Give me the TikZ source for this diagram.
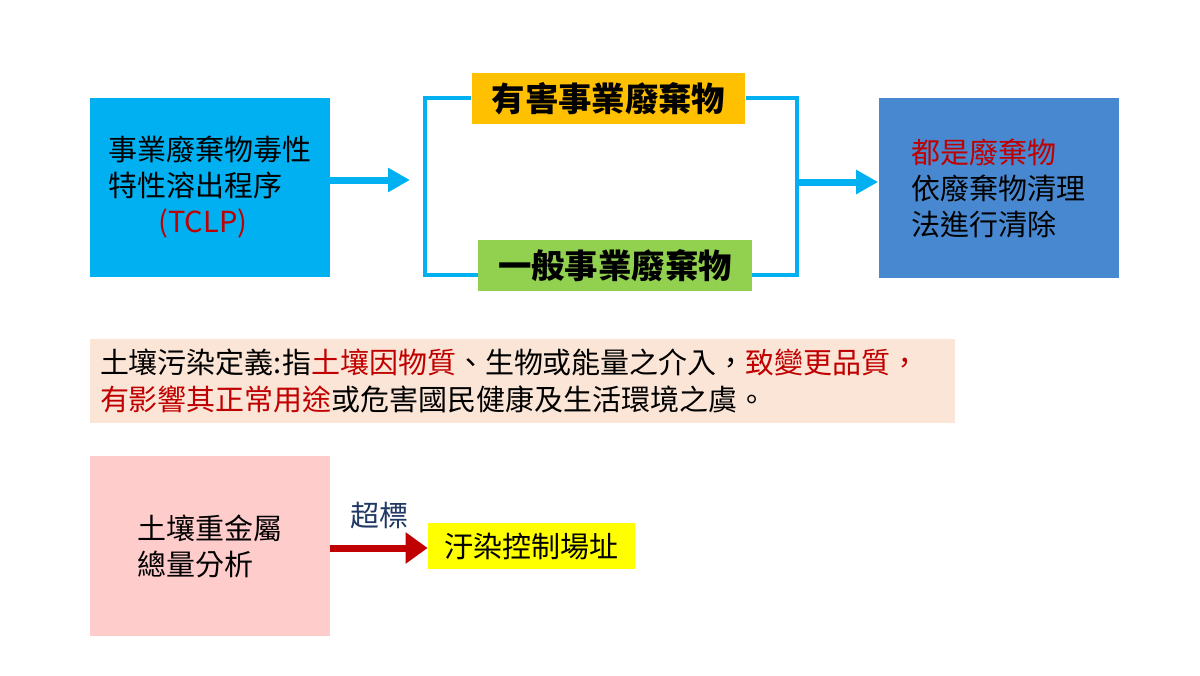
\documentclass[tikz,border=0pt]{standalone}
\usepackage{fontspec}
\setmainfont{Noto Sans CJK TC}
\usepackage{xcolor}
\usepackage{tikz}
\usetikzlibrary{arrows.meta, positioning, calc}
\definecolor{soilcyan}{HTML}{00B0F0}
\definecolor{soilorange}{HTML}{FFC000}
\definecolor{soilgreen}{HTML}{92D050}
\definecolor{soilblue}{HTML}{4788D0}
\definecolor{soilpeach}{HTML}{FBE5D6}
\definecolor{soilpink}{HTML}{FFCCCC}
\definecolor{soilyellow}{HTML}{FFFF00}
\definecolor{soilred}{HTML}{C00000}
\definecolor{soilnavy}{HTML}{1F3864}

\begin{document}
\begin{tikzpicture}[
    bigbox/.style={
      rectangle, inner sep=0pt, minimum width=4.8cm, minimum height=3.58cm,
      align=left, font=\fontsize{16.5}{20.5}\selectfont
    },
    wastebox/.style={
      rectangle, inner sep=0pt, minimum width=5.47cm, minimum height=1.02cm,
      align=center, font=\fontsize{19}{22}\selectfont\bfseries
    },
    carr/.style={-{Triangle[length=0.44cm, width=0.46cm]}, soilcyan, line width=0.14cm},
    brk/.style={soilcyan, line width=0.08cm},
    rarr/.style={-{Triangle[length=0.44cm, width=0.6cm]}, soilred, line width=0.14cm},
  ]
  \useasboundingbox (0,0) rectangle (24,13.5);

  \node[bigbox, fill=soilcyan] (tclp) at (4.2,9.75)
    {事業廢棄物毒性\\特性溶出程序\\\hspace*{1.0cm}{\color{soilred}(TCLP)}};
  \node[wastebox, fill=soilorange] (haz) at (12.17,11.53) {有害事業廢棄物};
  \node[wastebox, fill=soilgreen] (gen) at (12.3,8.19) {一般事業廢棄物};
  \node[bigbox, fill=soilblue] (res) at (19.97,9.74)
    {{\color{soilred}都是廢棄物}\\依廢棄物清理\\法進行清除};

  \coordinate (lb) at (8.5,9.9);
  \coordinate (rb) at (15.94,9.86);

  \draw[carr] (tclp.east |- lb) -- ([xshift=-0.3cm]lb);
  \draw[brk] (haz.west) -| (lb) |- ([yshift=-0.19cm]gen.west);
  \draw[brk] (haz.east) -| (rb) |- ([yshift=-0.19cm]gen.east);
  \draw[carr] (rb) -- (res.west |- rb);

  \node[rectangle, fill=soilpeach, inner sep=0.2cm, minimum height=1.6cm,
    text width=16.9cm, align=left, font=\fontsize{16.5}{21.5}\selectfont]
    (def) at (10.45,5.88)
    {土壤污染定義:指{\color{soilred}土壤因物質}、生物或能量之介入，{\color{soilred}致變更品質，}\\
     {\color{soilred}有影響其正常用途}或危害國民健康及生活環境之虞。};

  \node[bigbox, fill=soilpink, minimum height=3.6cm] (heavy) at (4.2,2.58)
    {土壤重金屬\\總量分析};
  \node[rectangle, fill=soilyellow, inner sep=0pt, minimum width=4.14cm,
    minimum height=0.92cm, font=\fontsize{16.5}{20}\selectfont]
    (site) at (10.63,2.58) {汙染控制場址};

  \draw[rarr] (heavy.east |- 0,2.54) -- (site.west |- 0,2.54)
    node[midway, above=0.2cm, text=soilnavy, font=\fontsize{16.5}{20}\selectfont] (over) {超標};
\end{tikzpicture}
\end{document}
